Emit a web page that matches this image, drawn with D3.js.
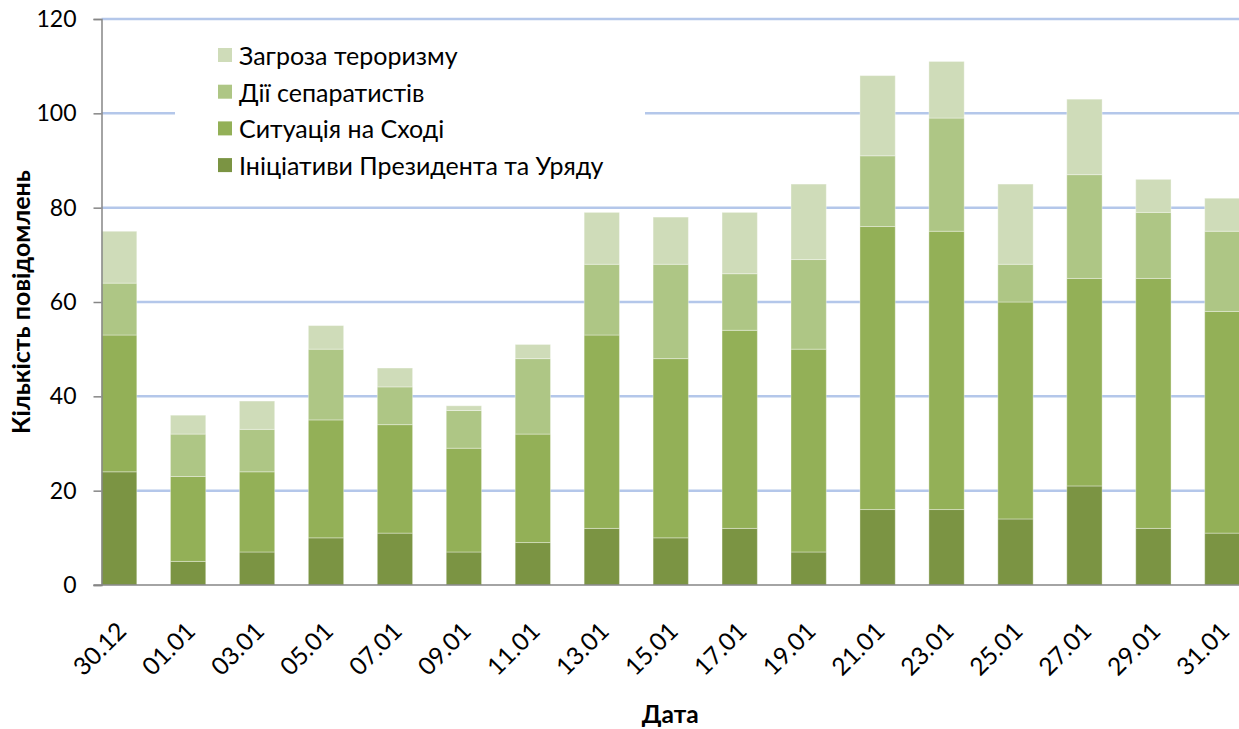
<!DOCTYPE html>
<html>
<head>
<meta charset="utf-8">
<script src="https://cdn.jsdelivr.net/npm/d3@7"></script>
<style>
  body { margin: 0; background: #fff; }
  text { font-family: Lato, "Open Sans", sans-serif; fill: #000; }
</style>
</head>
<body>
<div id="chart"></div>
<script>
var dates = ["30.12", "01.01", "03.01", "05.01", "07.01", "09.01", "11.01", "13.01", "15.01",
             "17.01", "19.01", "21.01", "23.01", "25.01", "27.01", "29.01", "31.01"];

// values per date, bottom segment first
var initiatives = [24, 5, 7, 10, 11, 7, 9, 12, 10, 12, 7, 16, 16, 14, 21, 12, 11];
var east        = [29, 18, 17, 25, 23, 22, 23, 41, 38, 42, 43, 60, 59, 46, 44, 53, 47];
var separatists = [11, 9, 9, 15, 8, 8, 16, 15, 20, 12, 19, 15, 24, 8, 22, 14, 17];
var terrorism   = [11, 4, 6, 5, 4, 1, 3, 11, 10, 13, 16, 17, 12, 17, 16, 7, 7];

var seriesKeys = ["initiatives", "east", "separatists", "terrorism"];
var seriesNames = ["Ініціативи Президента та Уряду", "Ситуація на Сході", "Дії сепаратистів", "Загроза тероризму"];
var colors = ["#7b9443", "#93b057", "#aec685", "#cfdcb9"];
var yTicks = [0, 20, 40, 60, 80, 100, 120];

var W = 1239, H = 729;
var margin = {top: 19, right: -1, bottom: 144, left: 101.5},
    width = W - margin.left - margin.right,
    height = H - margin.top - margin.bottom;

var rows = dates.map(function(d, i) {
  return {date: d, initiatives: initiatives[i], east: east[i],
          separatists: separatists[i], terrorism: terrorism[i]};
});

var svg = d3.select("#chart")
  .append("svg")
    .attr("width", W)
    .attr("height", H)
  .append("g")
    .attr("transform", "translate(" + margin.left + "," + margin.top + ")");

var x = d3.scaleBand()
  .domain(dates)
  .range([0, width])
  .paddingInner(0.488)
  .paddingOuter(0);

var y = d3.scaleLinear()
  .domain([0, 120])
  .range([height, 0]);

// gridlines
svg.append("g")
  .selectAll("line")
  .data(yTicks.filter(function(t) { return t > 0; }))
  .enter()
  .append("line")
    .attr("x1", 0)
    .attr("x2", W - margin.left)
    .attr("y1", function(d) { return y(d); })
    .attr("y2", function(d) { return y(d); })
    .attr("stroke", "#b4c7ea")
    .attr("stroke-width", 2.5);

// legend background hides part of the grid
var legend = svg.append("g")
  .attr("transform", "translate(" + (175 - margin.left) + "," + (30 - margin.top) + ")");

legend.append("rect")
  .attr("width", 470)
  .attr("height", 165)
  .attr("fill", "#fff");

// bars
var stacked = d3.stack().keys(seriesKeys)(rows);

svg.append("g")
  .selectAll("g")
  .data(stacked)
  .enter()
  .append("g")
    .attr("fill", function(d, i) { return colors[i]; })
  .selectAll("rect")
  .data(function(d) { return d; })
  .enter()
  .append("rect")
    .attr("x", function(d) { return x(d.data.date); })
    .attr("y", function(d) { return y(d[1]); })
    .attr("width", x.bandwidth())
    .attr("height", function(d) { return y(d[0]) - y(d[1]); })
    .attr("stroke", "#ffffff")
    .attr("stroke-opacity", 0.35)
    .attr("stroke-width", 1);

// y axis
var yAxis = svg.append("g")
  .call(d3.axisLeft(y).tickValues(yTicks).tickSize(8).tickPadding(17).tickFormat(d3.format("d")));
yAxis.select(".domain").attr("stroke", "#868686").attr("stroke-width", 1.5);
yAxis.selectAll(".tick line").attr("stroke", "#868686").attr("stroke-width", 1.5);
yAxis.selectAll(".tick text")
  .style("font-family", "Lato, sans-serif")
  .style("font-size", "23px")
  .attr("fill", "#000");

// x axis
var xAxis = svg.append("g")
  .attr("transform", "translate(0," + height + ")")
  .call(d3.axisBottom(x).tickSize(0).tickPadding(0));
xAxis.select(".domain").remove();
xAxis.append("line")
  .attr("x1", -8)
  .attr("x2", W - margin.left)
  .attr("stroke", "#868686")
  .attr("stroke-width", 1.5);
xAxis.selectAll(".tick text")
  .style("font-family", "Lato, sans-serif")
  .style("font-size", "24.5px")
  .attr("fill", "#000")
  .attr("text-anchor", "end")
  .attr("dominant-baseline", "central")
  .attr("dy", null)
  .attr("y", 0)
  .attr("transform", "translate(2,41) rotate(-45)");

// legend entries, top to bottom
var order = [3, 2, 1, 0];
var entry = legend.selectAll(".entry")
  .data(order)
  .enter()
  .append("g")
    .attr("class", "entry")
    .attr("transform", function(d, i) { return "translate(43," + (25 + i * 36.7) + ")"; });

entry.append("rect")
  .attr("x", 0)
  .attr("y", -7)
  .attr("width", 14)
  .attr("height", 14)
  .attr("fill", function(d) { return colors[d]; });

entry.append("text")
  .attr("x", 21)
  .attr("y", 0)
  .attr("dominant-baseline", "central")
  .style("font-size", "25px")
  .text(function(d) { return seriesNames[d]; });

// axis titles
svg.append("text")
  .attr("transform", "translate(" + (20 - margin.left) + "," + (height / 2) + ") rotate(-90)")
  .attr("text-anchor", "middle")
  .attr("dominant-baseline", "central")
  .style("font-size", "25px")
  .style("font-weight", "bold")
  .text("Кількість повідомлень");

svg.append("text")
  .attr("x", (W - margin.left) / 2)
  .attr("y", 713 - margin.top)
  .attr("text-anchor", "middle")
  .attr("dominant-baseline", "central")
  .style("font-size", "24.5px")
  .style("font-weight", "bold")
  .text("Дата");
</script>
</body>
</html>
